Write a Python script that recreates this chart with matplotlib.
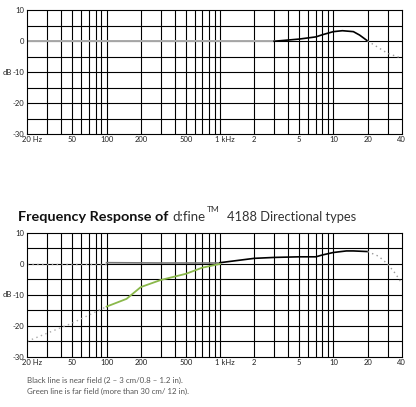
import matplotlib.pyplot as plt
import matplotlib.transforms as mtransforms

# tick values / labels
x_ticks = [20, 50, 100, 200, 500, 1000, 2000, 5000, 10000, 20000, 40000]
x_labels = ['20 Hz', '50', '100', '200', '500', '1 kHz', '2', '5', '10', '20', '40']
y_ticks = [-30, -20, -10, 0, 10]

# top chart (omni) response
top_flat_f = [20, 3000]
top_flat_db = [0, 0]
top_f = [3000, 3500, 5000, 7000, 8000, 10000, 12000, 15000, 17000, 20000]
top_db = [0.0, 0.2, 0.7, 1.4, 2.1, 3.1, 3.4, 3.1, 2.0, 0.1]
top_ext_f = [20000, 30000, 40000]
top_ext_db = [0.1, -3.9, -5.5]

# bottom chart: near field (black)
near_low_f = [20, 100]
near_low_db = [0, 0]
near_mid_f = [100, 300, 1000]
near_mid_db = [0.4, 0.3, 0.3]
near_f = [1000, 2000, 3000, 5000, 7000, 8000, 10000, 13000, 15000, 20000]
near_db = [0.4, 1.8, 2.1, 2.3, 2.3, 2.9, 3.7, 4.2, 4.2, 4.0]
near_ext_f = [20000, 25000, 30000, 35000, 40000]
near_ext_db = [4.0, 2.5, 0.0, -3.0, -6.2]

# bottom chart: far field (green)
far_low_f = [20, 50, 100]
far_low_db = [-25, -19.1, -13.8]
far_f = [100, 150, 200, 300, 500, 700, 1000]
far_db = [-13.8, -11.3, -7.5, -5.2, -3.2, -1.2, 0.0]

W, H = 416, 407
fig = plt.figure(figsize=(W / 100, H / 100), dpi=100)
plt.rcParams['font.family'] = ['Lato', 'DejaVu Sans']

green = '#8ab84a'
grid_minor = [a * 10 ** d for d in range(1, 5) for a in range(1, 10)]
grid_minor = [v for v in grid_minor if 20 < v < 40000]


def setup(ax):
    ax.set_xscale('log')
    ax.set_xlim(20, 40000)
    ax.set_ylim(-30, 10)
    for v in grid_minor:
        ax.axvline(v, color='black', lw=0.8, zorder=1)
    for v in range(-25, 10, 5):
        ax.axhline(v, color='black', lw=0.8, zorder=1)
    ax.xaxis.set_major_locator(plt.FixedLocator(x_ticks))
    ax.xaxis.set_minor_locator(plt.NullLocator())
    ax.set_xticklabels(x_labels)
    ax.set_yticks(y_ticks)
    ax.set_yticklabels([str(v) for v in y_ticks])
    ax.tick_params(length=0, labelsize=5.5, pad=2, colors='#222222')
    ax.tick_params(axis='x', pad=1.5)
    for s in ax.spines.values():
        s.set_linewidth(0.8)
    # shift a few x labels the way the original sits
    shifts = {'20 Hz': 5, '1 kHz': 5}
    for lab in ax.get_xticklabels():
        dx = shifts.get(lab.get_text(), 0)
        if dx:
            lab.set_transform(lab.get_transform() +
                              mtransforms.ScaledTranslation(dx / 100, 0, fig.dpi_scale_trans))
    ax.text(-15.5 / 374.4, 0.5, 'dB', transform=ax.transAxes, fontsize=5.5,
            ha='right', va='center', color='#222222')


# top axes
ax1 = fig.add_axes([27.3 / W, 1 - 134 / H, 374.4 / W, 123.7 / H])
setup(ax1)
ax1.plot(top_flat_f, top_flat_db, color='#aaaaaa', lw=1.4, zorder=2)
ax1.plot(top_f, top_db, color='black', lw=1.2, zorder=3)
ax1.plot(top_ext_f, top_ext_db, color='#999999', lw=1.0, ls=(0, (1, 2.5)), zorder=3)

# bottom axes
ax2 = fig.add_axes([27.3 / W, 1 - 356.7 / H, 374.4 / W, 123.7 / H])
setup(ax2)
ax2.plot(near_low_f, near_low_db, color='#999999', lw=1.0, ls=(0, (1, 2.5)), zorder=2)
ax2.plot(near_mid_f, near_mid_db, color='#777777', lw=1.2, zorder=2)
ax2.plot(near_f, near_db, color='black', lw=1.2, zorder=3)
ax2.plot(near_ext_f, near_ext_db, color='#999999', lw=1.0, ls=(0, (1, 2.5)), zorder=3)
ax2.plot(far_low_f, far_low_db, color='#aaaaaa', lw=1.0, ls=(0, (1, 2.5)), zorder=2)
ax2.plot(far_f, far_db, color=green, lw=1.3, zorder=4)

# title between the charts
ty = 1 - 220.7 / H
fig.text(18 / W, ty, 'Frequency Response of', fontsize=10.4, fontweight='bold',
         color='#111111', va='baseline', ha='left')
fig.text(172.7 / W, ty, 'd:fine', fontsize=9.5, color='#333333', va='baseline', ha='left')
fig.text(207.3 / W, 1 - 211.7 / H, 'TM', fontsize=6, color='#333333', va='baseline', ha='left')
fig.text(227 / W, ty, '4188 Directional types', fontsize=9.3, color='#333333',
         va='baseline', ha='left')

# footnote
fig.text(26.7 / W, 1 - 383.3 / H, 'Black line is near field (2 \u2013 3 cm/0.8 \u2013 1.2 in).',
         fontsize=5.7, color='#555555', va='baseline', ha='left')
fig.text(26.7 / W, 1 - 394 / H, 'Green line is far field (more than 30 cm/ 12 in).',
         fontsize=5.7, color='#555555', va='baseline', ha='left')

fig.savefig('out.png', dpi=100)
